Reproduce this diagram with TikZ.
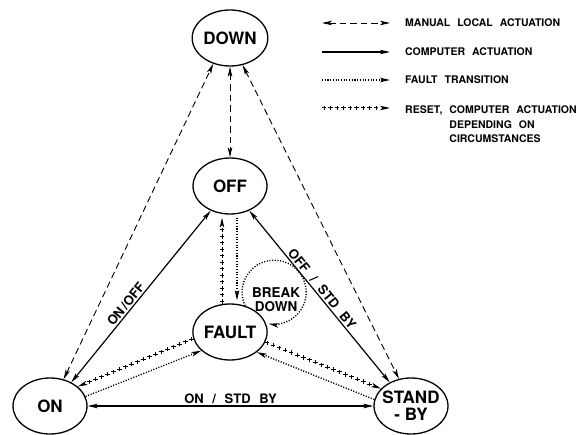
\documentclass[tikz,border=0pt]{standalone}
\usepackage{fontspec}
\setmainfont{TeX Gyre Heros}
\newfontfamily\legendfont[WordSpace=2.3]{TeX Gyre Heros}
\newfontfamily\edgefont[WordSpace=2.4]{TeX Gyre Heros}
\usetikzlibrary{shapes.geometric, arrows.meta, positioning, decorations.markings}

\begin{document}
\begin{tikzpicture}[
    x=1pt, y=1pt,
    state/.style={ellipse, draw, line width=1.3pt, minimum width=74pt, minimum height=56pt, inner sep=0pt, align=center, font=\bfseries\fontsize{17}{19}\selectfont},
    tip/.style={-{Stealth[length=10pt, width=4.5pt, inset=2.5pt]}},
    both/.style={{Stealth[length=10pt, width=4.5pt, inset=2.5pt]}-{Stealth[length=10pt, width=4.5pt, inset=2.5pt]}},
    manual/.style={both, line width=0.9pt, dash pattern=on 6.5pt off 4pt},
    computer/.style={both, line width=1.2pt},
    fault/.style={tip, line width=1.4pt, dash pattern=on 1.1pt off 1.6pt},
    reset/.style={tip, line width=1pt, dash pattern=on 0pt off 60pt, postaction={decorate},
        decoration={markings, mark=between positions 2pt and -11pt step 6.5pt with {\pgftransformresetnontranslations \draw[plusmark] (-2.2pt,0) -- (2.2pt,0) (0,-2.2pt) -- (0,2.2pt);}}},
    plusmark/.style={-, solid, line width=1pt, shorten <=0pt, shorten >=0pt},
    edgelabel/.style={font=\edgefont\bfseries\fontsize{13}{14}\selectfont, inner sep=1.5pt},
    legend/.style={font=\legendfont\bfseries\fontsize{10.5}{14.5}\selectfont, inner sep=0pt}
]
    \useasboundingbox (0,0) rectangle (581,434);

    % States
    \node[state] (down) at (230,396) {DOWN};
    \node[state] (off) at (230,248) {OFF};
    \node[state] (fault) at (230,102) {FAULT};
    \node[state] (on) at (50,28) {ON};
    \node[state, inner xsep=-3pt] (standby) at (411,28) {STAND\\[-2pt]-~BY};
    \node[font=\bfseries\fontsize{13.5}{14}\selectfont, align=center, inner sep=0pt] (breakdown) at (276,134) {BREAK\\DOWN};

    % Manual local actuation
    \draw[manual] (on.63) -- (down.237);
    \draw[manual] (down.south) -- (off.north);
    \draw[manual] (down.295) -- (standby.114);

    % Computer actuation
    \draw[computer] (on.48) -- (off.232) node[edgelabel, pos=0.43, above, sloped] (lblonoff) {ON\,/OFF};
    \draw[computer] (off.-52) -- (standby.132) node[edgelabel, pos=0.48, above, sloped] (lbloffstd) {OFF / STD BY};
    \draw[computer] (on.east) -- (standby.west) node[edgelabel, midway, above] (lblonstd) {ON / STD BY};

    % Fault transitions
    \draw[fault, shorten <=3pt, shorten >=3pt] ([xshift=7pt]off.south) -- ([xshift=7pt]fault.north);
    \draw[fault] (on.15) -- (fault.213);
    \draw[fault] (standby.170) -- (fault.-37);
    \draw[fault] (fault.60) arc[start angle=205, end angle=-100, radius=32pt];

    % Reset
    \draw[reset, shorten >=3pt] ([xshift=-8pt]fault.north) -- ([xshift=-8pt]off.south);
    \draw[reset] (fault.190) -- (on.35);
    \draw[reset] (fault.-16) -- (standby.150);

    % Legend
    \coordinate (lman0) at (322,411);
    \coordinate (lman1) at (390,411);
    \coordinate (lcom0) at (322,382);
    \coordinate (lcom1) at (390,382);
    \coordinate (lflt0) at (322,354);
    \coordinate (lflt1) at (390,354);
    \coordinate (lres0) at (322,326);
    \coordinate (lres1) at (390,326);
    \draw[manual] (lman0) -- (lman1);
    \draw[tip, line width=1.2pt] (lcom0) -- (lcom1);
    \draw[fault] (lflt0) -- (lflt1);
    \draw[reset] (lres0) -- (lres1);
    \node[legend, anchor=west] (lgman) at (405,411) {MANUAL LOCAL ACTUATION};
    \node[legend, anchor=west] (lgcom) at (405,382) {COMPUTER ACTUATION};
    \node[legend, anchor=west] (lgflt) at (405,354) {FAULT TRANSITION};
    \node[legend, anchor=north west] (lgres) at (405,330.5) {RESET,~\begin{tabular}[t]{@{}l@{}}COMPUTER ACTUATION\\DEPENDING ON\\CIRCUMSTANCES\end{tabular}};
\end{tikzpicture}
\end{document}
